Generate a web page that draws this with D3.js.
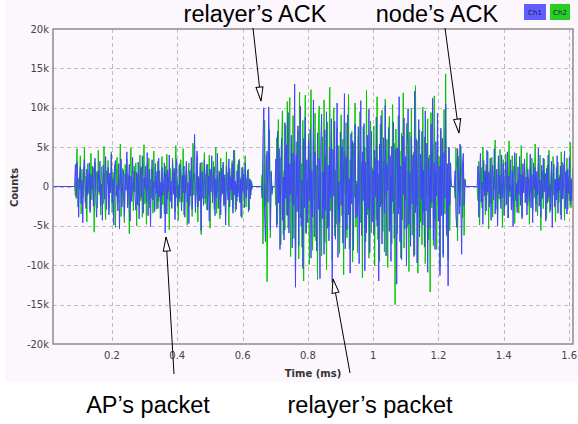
<!DOCTYPE html>
<html>
<head>
<meta charset="utf-8">
<script src="https://cdn.jsdelivr.net/npm/d3@7"></script>
<style>
  body { margin: 0; background: #fff; }
  svg { display: block; }
</style>
</head>
<body>
<div id="chart"></div>
<script>
// samples in thousands of counts, one every sampleStep ms from each segment start
const sampleStep = 0.0025;
const segmentStarts = [0.088, 0.660, 0.702, 1.251, 1.321];

const apCh1 = [2.8, -1.5, 3.1, 0.4, -3.9, 1.2, 2.5, -2.2, 0.8, -4.6, 1.9, 3.4, -0.9, -2.8, 2.2, -1.1, 0.6, 3.0, -3.3, 1.5,
  -0.4, 2.6, -2.5, 0.9, 3.6, -1.8, -3.9, 1.4, 2.0, -0.7, 3.2, -2.4, 0.3, -4.3, 2.7, 1.1, -1.6, 3.8, -2.9, 0.5,
  2.4, -3.6, 1.7, -0.8, 4.1, -2.1, 0.9, -4.9, 2.3, 3.3, -1.2, 0.2, -3.1, 2.9, -5.4, 1.0, 3.5, -2.6, 0.7, 2.1,
  -3.8, 1.6, -0.5, 4.4, -2.7, 0.1, 2.8, -4.4, 1.3, -1.9, 3.7, -0.6, 2.0, -1.3, -3.0, 1.8, -2.3, 3.1, -4.1, 0.4,
  2.5, -1.4, 3.9, -3.4, 1.1, -0.2, 2.6, -2.0, 4.3, -3.7, 0.8, 2.2, -5.1, 1.5, 3.4, -1.7, 0.6, -3.2, 2.9, -0.9,
  1.9, -2.8, 3.6, -1.3, 0.5, -4.0, 2.4, -1.1, 0.3, 3.0, -5.9, 1.7, -3.5, 2.1, -0.6, 4.0, -1.9, 0.7, -2.7, 3.3,
  -1.0, 2.3, -4.2, 1.2, 3.5, -2.5, 0.2, -1.6, 2.9, 1.9, -3.1, 1.4, -0.8, 2.6, -3.9, 1.0, 3.2, -2.0, 0.5, -4.7,
  2.0, -1.2, 3.7, -2.9, 0.9, 1.6, 6.6, -3.3, -0.4, 4.5, -2.6, 1.1, -1.8, 3.0, -5.6, 1.9, 0.3, -2.4, 3.4, -1.5,
  0.8, 2.8, -3.0, 1.3, -4.4, 2.2, -0.7, 3.9, -2.1, 0.6, 2.5, -3.7, 1.0, -1.4, 4.2, -2.8, 0.4, 1.8, -3.6, 2.3,
  -0.9, 3.1, -2.3, 1.5, -4.9, 2.6, 0.1, -1.7, 3.5, -2.6, 1.2, -0.5, 2.9, -3.4, 4.6, -1.1, 0.7, -2.9, 2.0, -1.3,
  3.3, -2.0, 0.9, -3.8, 2.4, -0.6, 1.6, -2.7, 3.0, -1.4, 0.5, 2.1, -3.2, 1.0, -1.6, 0.8, -0.4];
const apCh2 = [-1.2, 2.0, 4.8, -2.6, 1.0, -0.3, 3.9, -3.5, 2.2, -1.4, 0.5, 5.0, -2.0, 1.3, -4.5, 2.9, -0.8, 1.7, -3.0, 4.2,
  -1.7, 0.2, 2.4, -5.8, 3.1, -0.5, 1.9, -2.7, 4.6, -1.0, 0.7, -3.6, 2.5, 1.0, -2.2, 5.1, -1.4, -4.2, 2.0, 0.3,
  3.3, -2.9, 1.2, -0.6, 4.4, -3.3, 1.8, -1.0, 2.7, -5.2, 0.9, 3.7, -2.1, 1.5, -0.4, 5.4, -3.8, 0.6, 2.3, -1.6,
  -4.6, 2.8, 0.1, 3.5, -2.4, 1.4, -6.0, 2.1, 4.9, -1.3, 0.5, -3.1, 2.6, -0.7, 3.0, -5.0, 1.6, 0.2, -2.5, 4.0,
  -1.8, 2.4, -3.9, 0.8, 5.3, -2.2, 1.1, -4.8, 2.9, -0.5, 3.6, -2.7, 0.9, -1.5, 2.2, -3.4, 4.5, -0.2, 1.3, -2.9,
  0.6, 3.2, -1.9, 2.0, -4.1, 1.0, 3.8, -2.3, 0.4, -3.5, 2.6, -0.9, 4.1, -1.6, 1.2, -5.5, 2.3, 0.0, -2.8, 3.6,
  -0.6, 1.9, -3.2, 5.2, -1.4, 0.8, -4.3, 2.7, -2.0, 3.4, 0.3, -1.9, 4.8, -3.6, 1.5, -0.8, 2.9, -4.9, 1.1, 3.0,
  -2.4, 0.7, 2.2, -3.8, 5.5, -1.1, 1.7, -2.6, 0.2, 3.9, -4.5, 1.3, -0.4, 2.5, -6.1, 3.1, -1.5, 0.9, 4.3, -2.2,
  1.6, -3.0, 2.8, -0.9, 4.0, -5.3, 1.0, 2.4, -1.8, 3.2, -2.9, 0.5, 5.0, -3.4, 1.4, -0.7, 2.0, -4.1, 3.6, -1.2,
  0.4, 2.7, -2.5, 1.1, -3.9, 4.4, -0.6, 1.8, -5.0, 2.3, 0.9, -1.7, 3.3, -2.8, 1.5, 4.6, -3.2, 0.2, -1.9, 2.8,
  -0.8, 3.5, -2.1, 1.2, -4.0, 2.5, 0.3, -1.5, 3.9, -2.6, 1.0, -0.4, 2.2, -3.0, 0.9, -1.1, 0.5];

const relayAckCh1 = [-1.5, 6.0, 10.0, -3.5, -7.0, 2.5, 4.5, -2.0, 10.1, 3.0, -5.5, 1.8, -1.0];
const relayAckCh2 = [1.5, -7.3, 3.0, 8.4, -2.5, 4.0, -12.1, -1.0, 5.0, 7.2, -6.5, 2.0, -0.5];

const relayPktCh1 = [3.5, -5.2, 7.0, -2.1, 4.8, -8.0, 2.6, 6.1, -4.3, 1.2, -6.8, 8.1, -1.5, 5.3, -3.7, 9.4, -5.9, 2.9, -1.0, 6.5,
  -7.8, 4.2, -2.4, 13.0, -12.8, 4.0, -3.2, 7.7, -7.5, 2.3, 10.2, -5.0, 0.8, -10.4, 6.1, -2.7, 8.8, -6.0, 3.4, -4.6,
  5.9, -1.8, 7.3, -9.1, 2.0, -3.9, 11.0, -6.4, 4.4, -0.7, -8.2, 6.8, -2.9, 3.6, -11.7, 5.6, 9.2, -4.1, 1.9, -8.6,
  7.2, -3.0, 9.5, -5.3, 2.7, -6.9, 4.9, -1.4, 8.6, -12.2, 4.7, -1.2, 8.3, -6.7, 2.8, 10.6, -9.0, 0.6, -4.6, 6.9,
  -2.4, 5.0, -7.2, 3.1, 11.8, -7.9, 3.7, -5.5, 9.1, -3.6, 1.0, -11.0, 6.7, -2.2, 5.8, -8.1, 2.5, 7.9, -4.0, 0.3,
  -3.8, 7.6, -9.8, 2.2, 10.9, -6.2, 4.4, -1.8, 8.0, -10.7, 3.1, -5.9, 6.5, -2.9, 9.8, -8.4, 0.9, 7.0, -4.5, 2.0,
  -6.1, 4.6, -1.3, 8.8, -5.0, 3.3, -12.0, 5.4, -2.6, 9.0, -7.3, 1.6, 6.2, -3.4, 10.3, -8.8, 2.8, -0.5, 7.5, -5.7,
  3.9, -9.5, 5.1, -1.9, 8.2, -6.6, 0.4, 4.8, -12.4, 4.9, -3.5, 11.4, -7.0, 2.6, -9.3, 6.4, -1.0, 8.7, -5.4, 3.8,
  -10.1, 5.2, 9.9, -4.8, 1.7, -7.6, 6.3, -2.2, 4.0, -8.9, 12.1, -3.3, 6.0, -9.7, 2.4, 8.5, -6.4, 4.1, -1.6, 7.0,
  -4.9, 2.1, -7.7, 9.6, -3.1, 5.5, -10.9, 3.6, 0.8, -5.3, 7.9, -2.0, 11.2, -6.8, 3.0, -8.0, 5.7, -1.2, 9.3, -4.4,
  2.6, -11.3, 7.4, -3.7, 6.1, -9.0, 4.3, -1.5, 10.5, -6.0, 2.9, -12.6, 5.0, -2.3, 3.0];
const relayPktCh2 = [-2.4, 6.2, -4.8, 8.5, -1.0, 3.7, -7.4, 5.0, 9.6, -6.1, 2.0, -5.5, 7.8, -3.6, 10.8, -5.3, 1.4, 11.3, -8.9, 4.2,
  -2.0, 9.0, -6.6, 3.3, -11.5, 5.7, -1.3, 7.1, -9.2, 12.0, -4.0, 2.9, -7.7, 8.4, -12.0, 4.6, 11.6, -5.8, 1.0, -3.4,
  6.7, -9.9, 3.5, 12.3, -3.9, -8.1, 5.9, -1.6, 9.3, -6.9, 2.7, -11.8, 7.5, 10.2, -4.4, 1.8, -8.8, 6.3, -2.6, 11.0,
  -7.1, 3.9, -10.6, 8.2, 0.4, -5.0, 12.6, -3.1, 6.6, -9.4, 4.3, 10.0, -6.3, 2.1, -4.8, 7.4, -2.9, 5.2, -8.5, 1.3,
  9.1, -3.7, 6.0, -11.2, 4.5, -0.9, 8.1, -6.5, 2.6, 11.7, -7.9, 3.4, -2.1, 7.0, -9.6, 5.5, -1.4, 10.6, -5.1, 0.7,
  -8.4, 6.4, -2.3, 9.5, -4.6, 3.0, -11.6, 7.6, -0.6, 5.0, -7.0, 12.2, -3.6, 1.9, -9.1, 4.7, 8.3, -5.9, 2.4, -1.1,
  7.7, -10.1, 3.6, -4.2, 11.4, -6.7, 1.5, -9.5, 7.9, -2.2, 9.7, -5.7, 3.2, -8.3, 11.1, -1.4, 6.0, -10.3, 4.8, 8.9,
  -4.7, 1.1, -7.3, 10.4, -3.4, 5.5, -15.0, 7.3, 2.5, -6.0, 9.0, -2.8, 4.5, -9.1, 6.8, -4.2, 11.9, -7.8, 3.1, -1.7,
  8.0, -5.2, 2.0, -10.8, 6.9, -3.0, 9.9, -6.2, 0.9, 4.4, -8.7, 12.8, -2.5, 5.8, -11.0, 3.7, 7.2, -4.5, 1.6, -7.4,
  10.1, -3.3, 6.3, -9.8, 2.8, -1.2, 8.6, -6.8, 4.0, -13.4, 9.4, -2.7, 5.3, -7.5, 11.5, -4.1, 1.7, -8.0, 6.1, -2.4,
  3.8, -10.2, 7.1, -1.9, 5.6, -8.6, 9.8, -3.5, 14.3, -6.3, 2.2, -9.3, 4.9, -5.6, 1.0];

const nodeAckCh1 = [2.0, -3.6, -5.2, 4.8, 1.0, -3.5, 5.4, -1.8, -8.6, 3.0, 4.2, -2.4, 0.8];
const nodeAckCh2 = [-1.5, 4.9, 2.0, -6.9, 3.8, -0.5, -2.5, 5.1, 1.2, -4.0, 2.8, -6.2, 1.0];

const tailCh1 = [2.6, -3.9, 1.1, 4.2, -2.0, 0.5, -4.8, 3.3, -1.2, 2.0, -3.1, 4.6, -0.7, 1.8, -2.6, 3.6, -4.3, 0.9, 2.7, -1.7,
  4.8, -3.5, 0.3, 2.2, -5.0, 3.9, -0.9, 1.4, -2.8, 4.0, -1.4, 2.9, -3.7, 0.7, 3.1, -2.3, 4.4, -4.0, 1.3, -0.6,
  3.4, -2.9, 2.0, -5.1, 1.0, 4.3, -1.8, 0.4, -3.3, 2.5, -1.0, 3.8, -2.4, 1.6, -4.1, 2.9, -0.8, 3.5, -2.0, 1.2,
  -3.6, 2.2, 0.6, -1.9, 4.1, -2.7, 1.5, -4.6, 3.0, -0.3, 2.4, -3.2, 1.9, -1.1, 4.9, -2.5, 0.8, -3.9, 2.7, -1.5,
  3.6, -0.7, 1.7, -4.4, 2.3, -2.1, 4.0, -1.3, 0.2, -3.0, 3.2, -5.2, 1.4, 2.8, -2.6, 0.9, -1.7, 3.9, -3.4, 1.1,
  -0.5, 2.6, -4.2, 3.1, -1.6, 0.7, 4.5, -2.8, 1.9, -3.5, 2.2, -0.9, 3.7, -2.3, 1.0, -1.8, 2.4];
const tailCh2 = [-1.8, 3.2, -4.9, 0.8, 2.4, -2.7, 5.0, -0.4, 1.9, -3.6, 2.8, -1.1, 4.4, -5.4, 0.6, 2.1, -2.2, 3.7, -3.9, 1.2,
  -0.3, 5.9, -2.9, 1.5, -4.4, 3.0, -1.6, 4.7, -2.0, 0.5, -5.2, 3.4, 1.0, -2.5, 4.1, -0.9, 2.3, -4.0, 5.8, -1.3,
  0.2, -3.0, 3.9, -1.9, 2.6, -4.7, 1.7, 4.2, -2.6, 0.8, -3.4, 2.9, -1.2, 5.2, -3.8, 1.4, -0.5, 3.3, -2.1, 0.9,
  4.3, -2.4, 1.0, -4.8, 2.5, -0.7, 3.6, -3.1, 1.8, -1.4, 5.4, -2.2, 0.4, -3.7, 2.9, -1.0, 4.0, -5.6, 1.3, 2.0,
  -2.8, 3.5, -0.6, 1.6, -4.1, 2.7, -1.9, 4.6, -3.3, 0.5, 2.2, -2.5, 3.8, -1.1, 0.9, -4.5, 2.4, -0.8, 3.1, -2.0,
  1.4, -3.6, 4.4, -1.5, 0.6, 2.8, -4.3, 1.9, -0.2, 3.6, -2.9, 1.2, -1.8, 5.6, -2.7, 0.8, -0.4];

const xTicks = [0.2, 0.4, 0.6, 0.8, 1.0, 1.2, 1.4, 1.6];
const xTickLabels = ["0.2", "0.4", "0.6", "0.8", "1", "1.2", "1.4", "1.6"];
const yTicks = [-20, -15, -10, -5, 0, 5, 10, 15, 20];
const yTickLabels = ["-20k", "-15k", "-10k", "-5k", "0", "5k", "10k", "15k", "20k"];
const channels = ["Ch1", "Ch2"];

const width = 578, height = 424;
const plotLeft = 53, plotRight = 573, plotTop = 29, plotBottom = 344;

const x = d3.scaleLinear().domain([0.0193, 1.612]).range([plotLeft, plotRight]);
const y = d3.scaleLinear().domain([-20, 20]).range([plotBottom, plotTop]);

const color = d3.scaleOrdinal().domain(channels).range(["#4343ff", "#00c800"]);

// stitch the bursts together with flat zero stretches between them
function buildSeries(segments) {
    const pts = [{ t: x.domain()[0], v: 0 }];
    segments.forEach((vals, i) => {
        const t0 = segmentStarts[i];
        pts.push({ t: t0 - sampleStep, v: 0 });
        vals.forEach((v, j) => pts.push({ t: t0 + j * sampleStep, v: v }));
        pts.push({ t: t0 + vals.length * sampleStep, v: 0 });
    });
    pts.push({ t: x.domain()[1], v: 0 });
    return pts;
}

const series = [
    { name: "Ch2", values: buildSeries([apCh2, relayAckCh2, relayPktCh2, nodeAckCh2, tailCh2]) },
    { name: "Ch1", values: buildSeries([apCh1, relayAckCh1, relayPktCh1, nodeAckCh1, tailCh1]) }
];

const svg = d3.select("#chart")
    .append("svg")
    .attr("width", width)
    .attr("height", height);

svg.append("rect")
    .attr("x", 5).attr("y", 0)
    .attr("width", width - 5).attr("height", 382)
    .attr("fill", "#fcf7fc");

const defs = svg.append("defs");
defs.append("clipPath").attr("id", "plot-clip")
    .append("rect")
    .attr("x", plotLeft).attr("y", plotTop)
    .attr("width", plotRight - plotLeft).attr("height", plotBottom - plotTop);

defs.append("marker")
    .attr("id", "arrow")
    .attr("viewBox", "0 -5 16 10")
    .attr("refX", 15).attr("refY", 0)
    .attr("markerWidth", 16).attr("markerHeight", 10)
    .attr("markerUnits", "userSpaceOnUse")
    .attr("orient", "auto")
    .append("path")
    .attr("d", "M1,-3.5L15,0L1,3.5Z")
    .attr("fill", "#fff")
    .attr("stroke", "#000")
    .attr("stroke-width", 1);

// grid
svg.append("g")
    .selectAll("line")
    .data(yTicks.slice(1, -1))
    .enter()
    .append("line")
    .attr("x1", plotLeft).attr("x2", plotRight)
    .attr("y1", d => Math.round(y(d)) + 0.5).attr("y2", d => Math.round(y(d)) + 0.5)
    .attr("stroke", "#bdbdbd")
    .attr("stroke-dasharray", "4,3");

svg.append("g")
    .selectAll("line")
    .data(xTicks.filter(d => x(d) < plotRight - 2))
    .enter()
    .append("line")
    .attr("x1", d => Math.round(x(d)) + 0.5).attr("x2", d => Math.round(x(d)) + 0.5)
    .attr("y1", plotTop).attr("y2", plotBottom)
    .attr("stroke", "#bdbdbd")
    .attr("stroke-dasharray", "4,3");

// signal traces
const line = d3.line()
    .x(d => x(d.t))
    .y(d => y(d.v));

svg.append("g")
    .attr("clip-path", "url(#plot-clip)")
    .selectAll("path")
    .data(series)
    .enter()
    .append("path")
    .attr("d", d => line(d.values))
    .attr("fill", "none")
    .attr("stroke", d => color(d.name))
    .attr("stroke-width", 1);

// frame
svg.append("rect")
    .attr("x", plotLeft).attr("y", plotTop)
    .attr("width", plotRight - plotLeft).attr("height", plotBottom - plotTop)
    .attr("fill", "none")
    .attr("stroke", "#8c8c8c")
    .attr("stroke-width", 1.5);

// tick labels
svg.append("g")
    .selectAll("text")
    .data(yTicks)
    .enter()
    .append("text")
    .attr("x", plotLeft - 4)
    .attr("y", d => y(d))
    .attr("dy", "0.35em")
    .attr("text-anchor", "end")
    .text((d, i) => yTickLabels[i])
    .style("font-family", "DejaVu Sans, sans-serif")
    .style("font-size", "10px")
    .style("fill", "#444");

svg.append("g")
    .selectAll("text")
    .data(xTicks)
    .enter()
    .append("text")
    .attr("x", d => x(d))
    .attr("y", 359)
    .attr("text-anchor", "middle")
    .text((d, i) => xTickLabels[i])
    .style("font-family", "DejaVu Sans, sans-serif")
    .style("font-size", "10px")
    .style("fill", "#444");

svg.append("text")
    .attr("x", (plotLeft + plotRight) / 2)
    .attr("y", 377)
    .attr("text-anchor", "middle")
    .text("Time (ms)")
    .style("font-family", "DejaVu Sans, sans-serif")
    .style("font-size", "10px")
    .style("font-weight", "bold")
    .style("fill", "#333");

svg.append("text")
    .attr("transform", `translate(17.5,${(plotTop + plotBottom) / 2 + 1}) rotate(-90)`)
    .attr("text-anchor", "middle")
    .text("Counts")
    .style("font-family", "DejaVu Sans, sans-serif")
    .style("font-size", "10px")
    .style("font-weight", "bold")
    .style("fill", "#333");

// legend
const legend = svg.append("g")
    .selectAll("g")
    .data(channels)
    .enter()
    .append("g")
    .attr("transform", (d, i) => `translate(${524 + i * 26},4)`);

legend.append("rect")
    .attr("width", (d, i) => i === 0 ? 22 : 20)
    .attr("height", 16)
    .attr("fill", d => color(d))
    .attr("fill-opacity", 0.85);

legend.append("text")
    .attr("x", (d, i) => i === 0 ? 11 : 10)
    .attr("y", 11)
    .attr("text-anchor", "middle")
    .text(d => d)
    .style("font-family", "DejaVu Sans, sans-serif")
    .style("font-size", "7px")
    .style("fill", "#1a1a40");

// annotations
const notes = [
    { label: "relayer\u2019s ACK", tx: 255, ty: 22, from: [253, 28], to: [261, 101] },
    { label: "node\u2019s ACK", tx: 437, ty: 22, from: [445, 28], to: [459, 133] },
    { label: "AP\u2019s packet", tx: 148, ty: 413, from: [174, 374], to: [166, 237] },
    { label: "relayer\u2019s packet", tx: 370, ty: 413, from: [350, 373], to: [333, 279] }
];

svg.append("g")
    .selectAll("line")
    .data(notes)
    .enter()
    .append("line")
    .attr("x1", d => d.from[0]).attr("y1", d => d.from[1])
    .attr("x2", d => d.to[0]).attr("y2", d => d.to[1])
    .attr("stroke", "#000")
    .attr("stroke-width", 1)
    .attr("marker-end", "url(#arrow)");

svg.append("g")
    .selectAll("text")
    .data(notes)
    .enter()
    .append("text")
    .attr("x", d => d.tx)
    .attr("y", d => d.ty)
    .attr("text-anchor", "middle")
    .text(d => d.label)
    .style("font-family", "Liberation Sans, Arial, sans-serif")
    .style("font-size", "23.5px")
    .style("fill", "#000");
</script>
</body>
</html>
